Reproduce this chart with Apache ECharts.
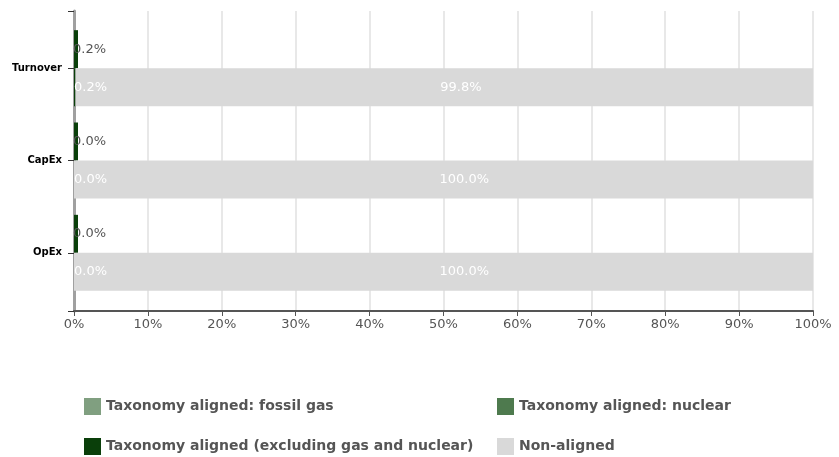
<!DOCTYPE html>
<html>
<head>
<meta charset="utf-8">
<script src="https://cdn.jsdelivr.net/npm/echarts@6/dist/echarts.min.js"></script>
<style>
  html, body { margin: 0; padding: 0; background: #fff; }
  #chart { width: 839px; height: 457px; }
</style>
</head>
<body>
<div id="chart"></div>
<script>
// data
var categories = ['Turnover', 'CapEx', 'OpEx'];
// upper bar of each pair
var gasTop = [0, 0, 0];
var nuclearTop = [0, 0, 0];
var alignedTop = [0.2, 0.0, 0.0];
// lower bar of each pair
var gasBottom = [0, 0, 0];
var nuclearBottom = [0, 0, 0];
var alignedBottom = [0.2, 0.0, 0.0];
var nonAligned = [99.8, 100.0, 100.0];

var names = {
    gas: 'Taxonomy aligned: fossil gas',
    nuclear: 'Taxonomy aligned: nuclear',
    aligned: 'Taxonomy aligned (excluding gas and nuclear)',
    non: 'Non-aligned'
};
var colors = {
    gas: '#809f80',
    nuclear: '#4e7a4e',
    aligned: '#0a3f0a',
    non: '#d9d9d9'
};

var font = 'DejaVu Sans';
function pct(p) { return p.value.toFixed(1) + '%'; }

var myChart = echarts.init(document.getElementById('chart'));

var barBase = { type: 'bar', xAxisIndex: 1, yAxisIndex: 1, barWidth: 38, barGap: '0%' };

function bar(name, key, stack, data, extra) {
    return Object.assign({}, barBase, {
        name: name,
        stack: stack,
        data: data,
        itemStyle: { color: colors[key] }
    }, extra || {});
}

var legendText = { color: '#555', fontWeight: 'bold', fontFamily: font, fontSize: 14 };

var option = {
    animation: false,
    grid: [
        // frame: axis lines, grid lines, x labels
        { left: 74, right: 26, top: 11, bottom: 146 },
        // bars
        { left: 74, right: 26, top: 22, bottom: 158 }
    ],
    xAxis: [
        {
            gridIndex: 0, type: 'value', min: 0, max: 100, interval: 10,
            axisLine: { show: true, lineStyle: { color: '#555', width: 2 } },
            axisTick: { show: true, length: 5, lineStyle: { color: '#555' } },
            axisLabel: { formatter: '{value}%', color: '#555', fontFamily: font, fontSize: 13, margin: 7 },
            splitLine: { show: true, lineStyle: { color: '#e8e8e8', width: 2 } }
        },
        { gridIndex: 1, type: 'value', min: 0, max: 100, show: false }
    ],
    yAxis: [
        {
            gridIndex: 0, type: 'category', data: [''],
            axisLine: { show: true, lineStyle: { color: '#a0a0a0', width: 3 } },
            axisTick: { show: true, length: 6, lineStyle: { color: '#333' } },
            axisLabel: { show: false },
            splitLine: { show: false }
        },
        {
            gridIndex: 1, type: 'category', data: categories, inverse: true,
            axisLine: { show: false },
            axisTick: { show: true, alignWithLabel: true, length: 6, lineStyle: { color: '#333' } },
            axisLabel: { color: '#000', fontWeight: 'bold', fontFamily: font, fontSize: 10, margin: 12 }
        }
    ],
    legend: [
        {
            data: [names.gas, names.aligned],
            orient: 'vertical', left: 84, top: 398, padding: 0,
            icon: 'rect', itemWidth: 17, itemHeight: 17, itemGap: 23,
            textStyle: legendText
        },
        {
            data: [names.nuclear, names.non],
            orient: 'vertical', left: 497, top: 398, padding: 0,
            icon: 'rect', itemWidth: 17, itemHeight: 17, itemGap: 23,
            textStyle: legendText
        }
    ],
    series: [
        bar(names.gas, 'gas', 'top', gasTop),
        bar(names.nuclear, 'nuclear', 'top', nuclearTop),
        bar(names.aligned, 'aligned', 'top', alignedTop, {
            barMinHeight: 4,
            label: {
                show: true, position: [-1, '50%'], align: 'left', verticalAlign: 'middle',
                color: '#555', fontFamily: font, fontSize: 13, formatter: pct
            }
        }),
        bar(names.gas, 'gas', 'bottom', gasBottom),
        bar(names.nuclear, 'nuclear', 'bottom', nuclearBottom),
        bar(names.aligned, 'aligned', 'bottom', alignedBottom, {
            label: {
                show: true, position: [0, '50%'], align: 'left', verticalAlign: 'middle',
                color: '#fff', fontFamily: font, fontSize: 13, formatter: pct
            }
        }),
        bar(names.non, 'non', 'bottom', nonAligned, {
            label: {
                show: true, position: ['50%', '50%'], align: 'left', verticalAlign: 'middle',
                offset: [-4, 0], color: '#fff', fontFamily: font, fontSize: 13, formatter: pct
            }
        })
    ]
};

myChart.setOption(option);
</script>
</body>
</html>
